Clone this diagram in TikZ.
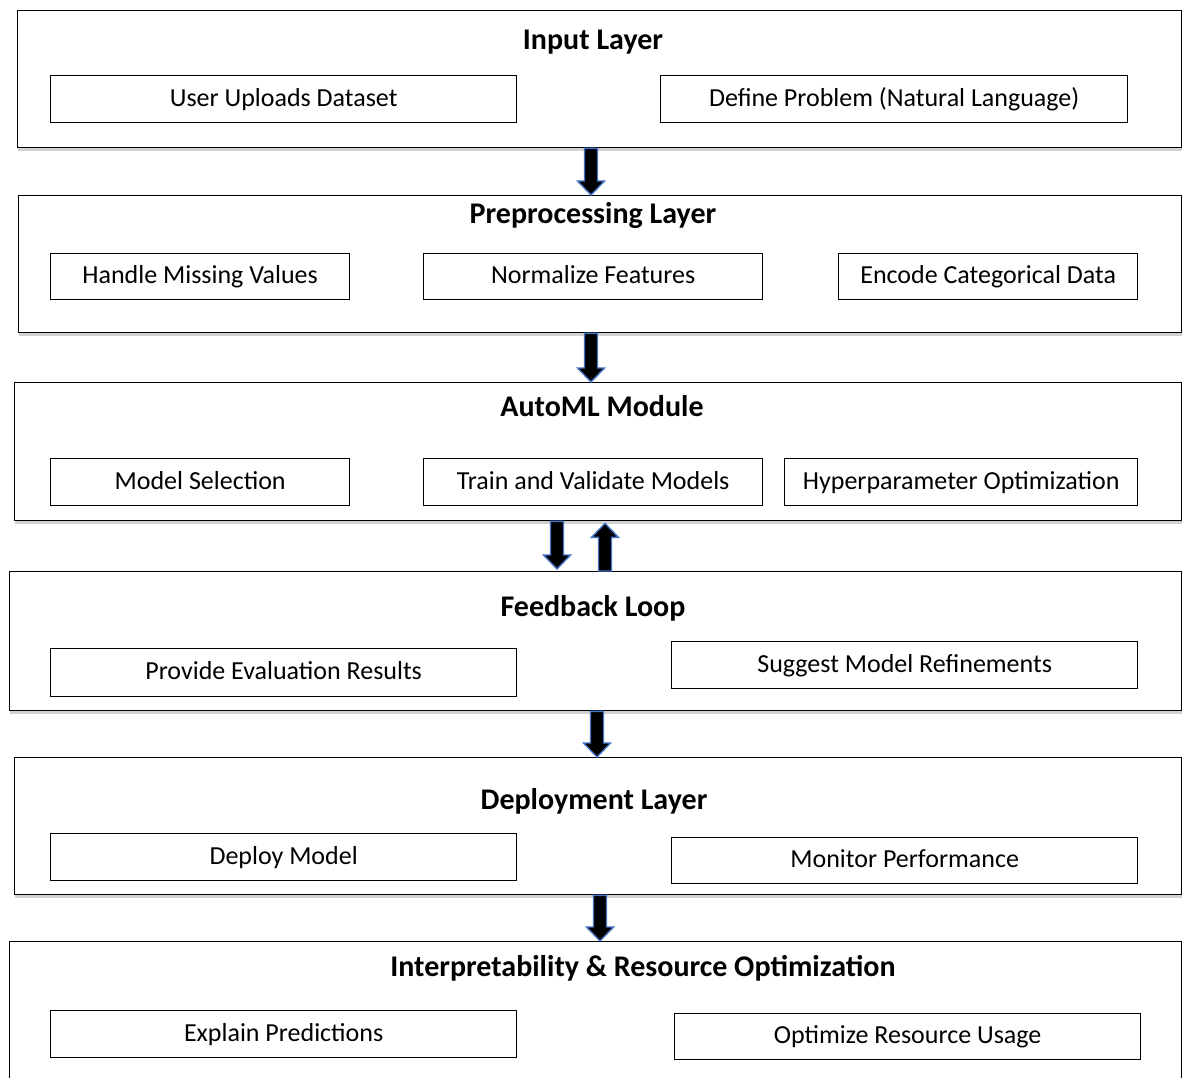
\documentclass[tikz,border=0pt]{standalone}
\usepackage{fontspec}
\setmainfont{Carlito}
\usetikzlibrary{calc,shadows}
\definecolor{arrblue}{RGB}{68,114,196}
\tikzset{
  layer/.style={draw, line width=1.4pt, fill=white, anchor=north west, inner sep=0pt,
    drop shadow={shadow xshift=0pt, shadow yshift=-3pt, opacity=0.18, fill=black}},
  item/.style={draw, line width=1.3pt, fill=white, anchor=north west, inner sep=0pt},
  itemtext/.style={font=\fontsize{26}{30}\selectfont, inner sep=0pt, text height=19pt, text depth=5pt},
  title/.style={font=\bfseries\fontsize{30}{34}\selectfont, inner sep=0pt, text height=22pt, text depth=6pt},
  blockarr/.style={fill=black, draw=arrblue, line width=1.4pt, line join=miter},
}
% #1 top point, #2 tip point (down arrow)
\newcommand{\downblk}[2]{%
  \draw[blockarr] ($(#1)+(-6.5,0)$) -- ($(#2)+(-6.5,-14)$) -- ($(#2)+(-13.5,-14)$) -- (#2)
   -- ($(#2)+(13.5,-14)$) -- ($(#2)+(6.5,-14)$) -- ($(#1)+(6.5,0)$) -- cycle;}
\newcommand{\upblk}[2]{%
  \draw[blockarr] ($(#1)+(-6.5,0)$) -- ($(#2)+(-6.5,14)$) -- ($(#2)+(-13.5,14)$) -- (#2)
   -- ($(#2)+(13.5,14)$) -- ($(#2)+(6.5,14)$) -- ($(#1)+(6.5,0)$) -- cycle;}
\begin{document}
\begin{tikzpicture}[x=1pt,y=-1pt]
\useasboundingbox (0,0) rectangle (1182,1077);
\begin{scope}
\clip (0,0) rectangle (1182,1077);
% layers
\node[layer, minimum width=1164pt, minimum height=137pt] (L1) at (17,10) {};
\node[layer, minimum width=1163pt, minimum height=137pt] (L2) at (18,195) {};
\node[layer, minimum width=1167pt, minimum height=138pt] (L3) at (14,382) {};
\node[layer, minimum width=1172pt, minimum height=139pt] (L4) at (9,571) {};
\node[layer, minimum width=1167pt, minimum height=137pt] (L5) at (14,757) {};
\node[layer, minimum width=1172pt, minimum height=150pt] (L6) at (9,941) {};
% titles
\node[title] (T1) at (593,41) {Input Layer};
\node[title] (T2) at (593,215) {Preprocessing Layer};
\node[title] (T3) at (602,408) {AutoML Module};
\node[title] (T4) at (593,608) {Feedback Loop};
\node[title] (T5) at (594,801) {Deployment Layer};
\node[title] (T6) at (643,968) {Interpretability \& Resource Optimization};
% items
\node[item, minimum width=466pt, minimum height=47pt] (a1) at (50,75) {};
\node[itemtext] at (a1.center) {User Uploads Dataset};
\node[item, minimum width=467pt, minimum height=47pt] (a2) at (660,75) {};
\node[itemtext] at (a2.center) {Define Problem (Natural Language)};

\node[item, minimum width=299pt, minimum height=46pt] (b1) at (50,253) {};
\node[itemtext] at (b1.center) {Handle Missing Values};
\node[item, minimum width=339pt, minimum height=46pt] (b2) at (423,253) {};
\node[itemtext] at (b2.center) {Normalize Features};
\node[item, minimum width=299pt, minimum height=46pt] (b3) at (838,253) {};
\node[itemtext] at (b3.center) {Encode Categorical Data};

\node[item, minimum width=299pt, minimum height=47pt] (c1) at (50,458) {};
\node[itemtext] at (c1.center) {Model Selection};
\node[item, minimum width=339pt, minimum height=47pt] (c2) at (423,458) {};
\node[itemtext] at (c2.center) {Train and Validate Models};
\node[item, minimum width=353pt, minimum height=47pt] (c3) at (784,458) {};
\node[itemtext] at (c3.center) {Hyperparameter Optimization};

\node[item, minimum width=466pt, minimum height=48pt] (d1) at (50,648) {};
\node[itemtext] at (d1.center) {Provide Evaluation Results};
\node[item, minimum width=466pt, minimum height=47pt] (d2) at (671,641) {};
\node[itemtext] at (d2.center) {Suggest Model Refinements};

\node[item, minimum width=466pt, minimum height=47pt] (e1) at (50,833) {};
\node[itemtext] at (e1.center) {Deploy Model};
\node[item, minimum width=466pt, minimum height=46pt] (e2) at (671,837) {};
\node[itemtext] at (e2.center) {Monitor Performance};

\node[item, minimum width=466pt, minimum height=47pt] (f1) at (50,1010) {};
\node[itemtext] at (f1.center) {Explain Predictions};
\node[item, minimum width=466pt, minimum height=46pt] (f2) at (674,1013) {};
\node[itemtext] at (f2.center) {Optimize Resource Usage};
% arrows
\coordinate (x1) at (591,0);
\coordinate (x2) at (591,0);
\coordinate (x3) at (557,0);
\coordinate (x3u) at (605,0);
\coordinate (x4) at (597,0);
\coordinate (x5) at (600,0);
\coordinate (p1t) at (x1 |- L1.south); \coordinate (p1b) at (x1 |- L2.north);
\coordinate (p2t) at (x2 |- L2.south); \coordinate (p2b) at (x2 |- L3.north);
\coordinate (p3t) at (x3 |- L3.south); \coordinate (p3b) at (x3 |- L4.north);
\coordinate (p3ut) at (x3u |- L3.south); \coordinate (p3ub) at (x3u |- L4.north);
\coordinate (p4t) at (x4 |- L4.south); \coordinate (p4b) at (x4 |- L5.north);
\coordinate (p5t) at (x5 |- L5.south); \coordinate (p5b) at (x5 |- L6.north);
\downblk{p1t}{p1b}
\downblk{p2t}{p2b}
\downblk{p3t}{$(p3b)+(0,-2)$}
\upblk{p3ub}{$(p3ut)+(0,2)$}
\downblk{p4t}{p4b}
\downblk{p5t}{p5b}
\end{scope}
\end{tikzpicture}
\end{document}
